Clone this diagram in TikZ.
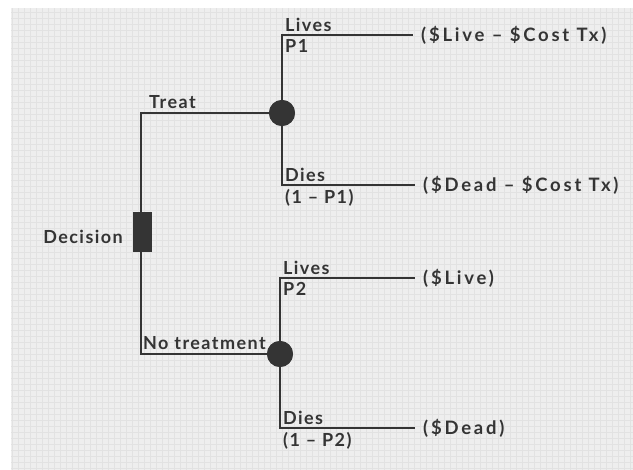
\documentclass[tikz,border=0pt]{standalone}
\usepackage{fontspec}
\setmainfont{Lato}
\newfontfamily\lblfont[LetterSpace=8]{Lato}
\newfontfamily\outfont[LetterSpace=15]{Lato}
\definecolor{bgc}{RGB}{238,238,238}
\definecolor{gridc}{RGB}{226,226,226}
\definecolor{ink}{RGB}{52,52,52}
\begin{document}
\begin{tikzpicture}[x=1pt,y=-1pt,
  lbl/.style={font=\lblfont\fontsize{18}{20}\selectfont\bfseries, text=ink, inner sep=1pt},
  outlbl/.style={font=\outfont\fontsize{18.5}{20}\selectfont\bfseries, text=ink, inner ysep=1pt, inner xsep=6pt, anchor=west},
  branch/.style={draw=ink, line width=1.8pt},
  chance/.style={circle, fill=ink, minimum size=26pt, inner sep=0pt},
  decbox/.style={rectangle, fill=ink, minimum width=19pt, minimum height=40pt, inner sep=0pt}]
\useasboundingbox (0,0) rectangle (633,470);
\fill[white] (0,0) rectangle (633,470);
\fill[bgc] (11,8) rectangle (633,470);
\draw[gridc, line width=0.4pt, step=6pt] (11,8) grid (633,470);
% nodes
\node[decbox] (dec) at (142,232) {};
\node[chance] (c1) at (282,113) {};
\node[chance] (c2) at (280,354) {};
\node[outlbl] (o1) at (415,35) {(\$Live – \$Cost Tx)};
\node[outlbl] (o2) at (417,185) {(\$Dead – \$Cost Tx)};
\node[outlbl] (o3) at (417,278) {(\$Live)};
\node[outlbl] (o4) at (417,428) {(\$Dead)};
% connectors
\draw[branch] (dec.north -| 141,0) |- (c1);
\draw[branch] (dec.south -| 141,0) |- (c2);
\draw[branch] (c1) |- ([xshift=-2pt]o1.west);
\draw[branch] (c1) |- ([xshift=-2pt]o2.west);
\draw[branch] (c2) |- ([xshift=-2pt]o3.west);
\draw[branch] (c2) |- ([xshift=-2pt]o4.west);
\node[chance] at (c1) {};
\node[chance] at (c2) {};
\node[decbox] at (dec) {};
% labels
\node[lbl, anchor=east] (ldec) at (124,237) {Decision};
\node[lbl, anchor=south west] (ltreat) at (148,110) {Treat};
\node[lbl, anchor=south west] (lno) at (142,351) {No treatment};
\node[lbl, anchor=south west] (lv1) at (284,33) {Lives};
\node[lbl, anchor=north west] (p1) at (284,38) {P1};
\node[lbl, anchor=south west] (dd1) at (284,183) {Dies};
\node[lbl, anchor=north west] (q1) at (284,188) {(1 – P1)};
\node[lbl, anchor=south west] (lv2) at (282,276) {Lives};
\node[lbl, anchor=north west] (p2) at (282,281) {P2};
\node[lbl, anchor=south west] (dd2) at (282,426) {Dies};
\node[lbl, anchor=north west] (q2) at (282,431) {(1 – P2)};
\end{tikzpicture}
\end{document}
